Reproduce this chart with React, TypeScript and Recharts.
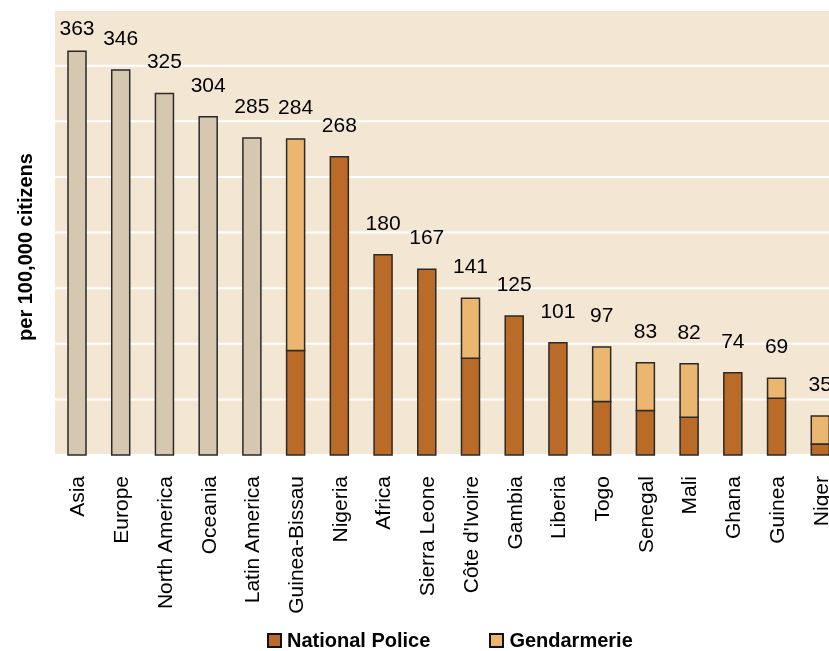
import { BarChart, Bar, XAxis, YAxis, CartesianGrid, LabelList } from 'recharts'

const categories = [
  'Asia', 'Europe', 'North America', 'Oceania', 'Latin America', 'Guinea-Bissau',
  'Nigeria', 'Africa', 'Sierra Leone', "Côte d'Ivoire", 'Gambia', 'Liberia',
  'Togo', 'Senegal', 'Mali', 'Ghana', 'Guinea', 'Niger',
]
// world regions (no police/gendarmerie split)
const regionValues = [363, 346, 325, 304, 285, 0, 0, 0, 0, 0, 0, 0, 0, 0, 0, 0, 0, 0]
const policeValues = [0, 0, 0, 0, 0, 94, 268, 180, 167, 87, 125, 101, 48, 40, 34, 74, 51, 10]
const gendarmerieValues = [0, 0, 0, 0, 0, 190, 0, 0, 0, 54, 0, 0, 49, 43, 48, 0, 18, 25]
const totals = [363, 346, 325, 304, 285, 284, 268, 180, 167, 141, 125, 101, 97, 83, 82, 74, 69, 35]
const yTicks = [0, 50, 100, 150, 200, 250, 300, 350, 400]

// total label goes on whichever segment is on top
const data = categories.map((name, i) => {
  const region = regionValues[i]
  const police = policeValues[i]
  const gend = gendarmerieValues[i]
  return {
    name,
    region,
    police,
    gend,
    regionTop: gend === 0 && police === 0 ? totals[i] : null,
    policeTop: gend === 0 && police > 0 ? totals[i] : null,
    gendTop: gend > 0 ? totals[i] : null,
  }
})

const FONT = '"Liberation Sans", Arial, sans-serif'
const BG = '#F3E7D3'
const REGION = '#D6C7B1'
const POLICE = '#BA6B27'
const GEND = '#EBB66F'
const EDGE = '#2a2a2a'

const XTick = (props: any) => {
  const { x, y, payload } = props
  return (
    <text
      x={x}
      y={y + 13}
      transform={`rotate(-90, ${x}, ${y + 13})`}
      textAnchor="end"
      dominantBaseline="central"
      fontSize={21}
      fontFamily={FONT}
      fill="#000"
    >
      {payload.value}
    </text>
  )
}

const TotalLabel = (props: any) => {
  const { x, y, width, value } = props
  if (value === null || value === undefined || value === '') return null
  const baseline = Math.max(y - 25, 27)
  return (
    <text x={x + width / 2} y={baseline} textAnchor="middle" fontSize={21} fontFamily={FONT} fill="#000">
      {value}
    </text>
  )
}

const YTitle = () => (
  <text
    x={17}
    y={239}
    transform="rotate(-90, 17, 239)"
    textAnchor="middle"
    dominantBaseline="central"
    fontSize={20}
    fontWeight="bold"
    fontFamily={FONT}
    fill="#000"
  >
    per 100,000 citizens
  </text>
)

const LegendItem = ({ color, label }: { color: string; label: string }) => (
  <div style={{ display: 'flex', alignItems: 'center' }}>
    <span style={{ width: 11, height: 11, background: color, border: '2px solid #111', marginRight: 5 }} />
    <span style={{ fontSize: 20, fontWeight: 'bold' }}>{label}</span>
  </div>
)

export default function App() {
  return (
    <div
      style={{
        position: 'fixed', left: 8, top: 8, width: 821, height: 643,
        overflow: 'hidden', fontFamily: FONT,
      }}
    >
      <BarChart
        width={834}
        height={640}
        data={data}
        margin={{ top: 2, right: 0, bottom: 0, left: 0 }}
        barCategoryGap={0}
      >
        <CartesianGrid vertical={false} stroke="#fff" strokeWidth={2} fill={BG} fillOpacity={1} />
        <XAxis
          dataKey="name"
          interval={0}
          axisLine={false}
          tickLine={false}
          height={193}
          tick={<XTick />}
        />
        <YAxis
          width={47}
          domain={[0, 400]}
          ticks={yTicks}
          tick={() => <g />}
          axisLine={false}
          tickLine={false}
          label={<YTitle />}
        />
        <Bar dataKey="region" stackId="a" fill={REGION} stroke={EDGE} strokeWidth={1.5} barSize={18} isAnimationActive={false}>
          <LabelList dataKey="regionTop" content={<TotalLabel />} />
        </Bar>
        <Bar dataKey="police" stackId="a" fill={POLICE} stroke={EDGE} strokeWidth={1.5} barSize={18} isAnimationActive={false}>
          <LabelList dataKey="policeTop" content={<TotalLabel />} />
        </Bar>
        <Bar dataKey="gend" stackId="a" fill={GEND} stroke={EDGE} strokeWidth={1.5} barSize={18} isAnimationActive={false}>
          <LabelList dataKey="gendTop" content={<TotalLabel />} />
        </Bar>
      </BarChart>
      <div style={{ position: 'absolute', left: 259, top: 621, display: 'flex' }}>
        <LegendItem color={POLICE} label="National Police" />
        <div style={{ width: 59 }} />
        <LegendItem color={GEND} label="Gendarmerie" />
      </div>
    </div>
  )
}
